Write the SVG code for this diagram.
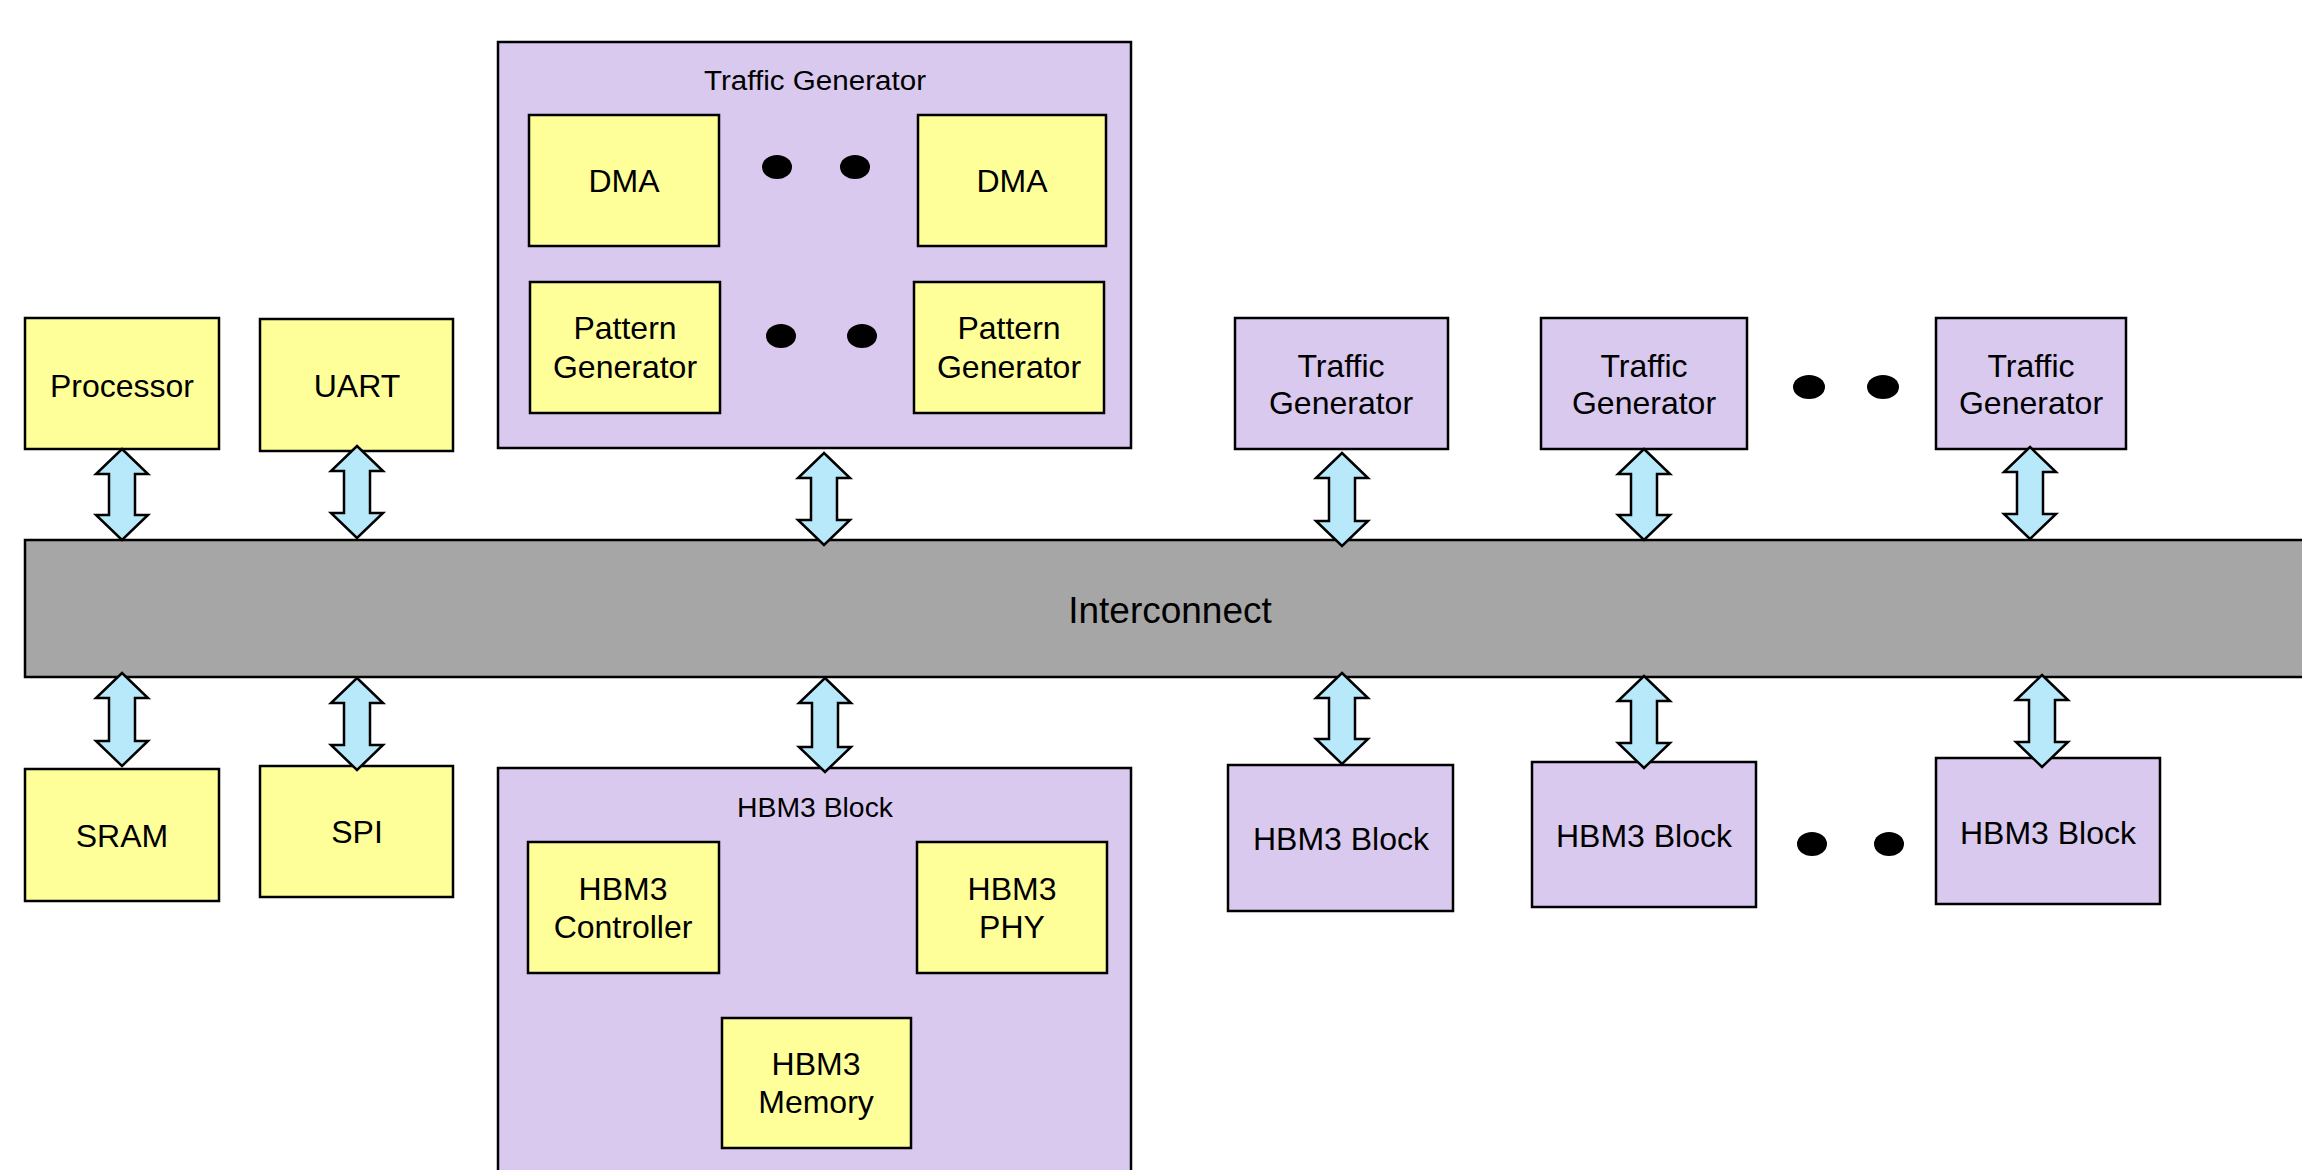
<svg xmlns="http://www.w3.org/2000/svg" width="2302" height="1170" viewBox="0 0 2302 1170">
<style>
.y{fill:#ffff99;stroke:#000;stroke-width:2.5}
.p{fill:#d9c9ee;stroke:#000;stroke-width:2.5}
.g{fill:#a6a6a6;stroke:#000;stroke-width:2.5}
.a{fill:#b7e9fb;stroke:#000;stroke-width:2.5;stroke-linejoin:miter}
.t{font-family:"Liberation Sans",Arial,sans-serif;font-size:32px;fill:#000;text-anchor:middle}
.ti{font-family:"Liberation Sans",Arial,sans-serif;font-size:27px;fill:#000;text-anchor:middle}
.d{fill:#000}
</style>
<rect width="2302" height="1170" fill="#fff"/>
<g id="interconnect"><rect class="g" x="25" y="540" width="2300" height="137"/><text class="t" x="1170" y="623" style="font-size:37px">Interconnect</text></g>
<g id="processor"><rect class="y" x="25" y="318" width="194" height="131"/><text class="t" x="122" y="397">Processor</text></g>
<g id="uart"><rect class="y" x="260" y="319" width="193" height="132"/><text class="t" x="357" y="397">UART</text></g>
<g id="sram"><rect class="y" x="25" y="769" width="194" height="132"/><text class="t" x="122" y="847">SRAM</text></g>
<g id="spi"><rect class="y" x="260" y="766" width="193" height="131"/><text class="t" x="357" y="843">SPI</text></g>
<g id="tg-main"><rect class="p" x="498" y="42" width="633" height="406"/><text class="ti" x="815" y="90" textLength="222" lengthAdjust="spacingAndGlyphs">Traffic Generator</text>
<g id="dma1"><rect class="y" x="529" y="115" width="190" height="131"/><text class="t" x="624" y="192">DMA</text></g>
<g id="dma2"><rect class="y" x="918" y="115" width="188" height="131"/><text class="t" x="1012" y="192">DMA</text></g>
<g id="pg1"><rect class="y" x="530" y="282" width="190" height="131"/><text class="t" x="625" y="339">Pattern</text><text class="t" x="625" y="378">Generator</text></g>
<g id="pg2"><rect class="y" x="914" y="282" width="190" height="131"/><text class="t" x="1009" y="339">Pattern</text><text class="t" x="1009" y="378">Generator</text></g>
<ellipse class="d" cx="777" cy="167" rx="15" ry="12"/><ellipse class="d" cx="855" cy="167" rx="15" ry="12"/>
<ellipse class="d" cx="781" cy="336" rx="15" ry="12"/><ellipse class="d" cx="862" cy="336" rx="15" ry="12"/>
</g>
<g id="hbm-main"><rect class="p" x="498" y="768" width="633" height="440"/><text class="ti" x="815" y="817" textLength="156" lengthAdjust="spacingAndGlyphs">HBM3 Block</text>
<g id="hbm-ctrl"><rect class="y" x="528" y="842" width="191" height="131"/><text class="t" x="623" y="900">HBM3</text><text class="t" x="623" y="938">Controller</text></g>
<g id="hbm-phy"><rect class="y" x="917" y="842" width="190" height="131"/><text class="t" x="1012" y="900">HBM3</text><text class="t" x="1012" y="938">PHY</text></g>
<g id="hbm-mem"><rect class="y" x="722" y="1018" width="189" height="130"/><text class="t" x="816" y="1075">HBM3</text><text class="t" x="816" y="1113">Memory</text></g>
</g>
<g id="tg1"><rect class="p" x="1235" y="318" width="213" height="131"/><text class="t" x="1341" y="377">Traffic</text><text class="t" x="1341" y="414">Generator</text></g>
<g id="tg2"><rect class="p" x="1541" y="318" width="206" height="131"/><text class="t" x="1644" y="377">Traffic</text><text class="t" x="1644" y="414">Generator</text></g>
<g id="tg3"><rect class="p" x="1936" y="318" width="190" height="131"/><text class="t" x="2031" y="377">Traffic</text><text class="t" x="2031" y="414">Generator</text></g>
<g id="tg-dots"><ellipse class="d" cx="1809" cy="387" rx="16" ry="12"/><ellipse class="d" cx="1883" cy="387" rx="16" ry="12"/></g>
<g id="hbm1"><rect class="p" x="1228" y="765" width="225" height="146"/><text class="t" x="1341" y="850">HBM3 Block</text></g>
<g id="hbm2"><rect class="p" x="1532" y="762" width="224" height="145"/><text class="t" x="1644" y="847">HBM3 Block</text></g>
<g id="hbm3"><rect class="p" x="1936" y="758" width="224" height="146"/><text class="t" x="2048" y="844">HBM3 Block</text></g>
<g id="hbm-dots"><ellipse class="d" cx="1812" cy="844" rx="15" ry="12"/><ellipse class="d" cx="1889" cy="844" rx="15" ry="12"/></g>
<g id="connectors">
<path class="a" d="M122,449 L148,474 L135,474 L135,515 L148,515 L122,540 L96,515 L109,515 L109,474 L96,474 Z"/>
<path class="a" d="M357,446 L383,471 L370,471 L370,513 L383,513 L357,538 L331,513 L344,513 L344,471 L331,471 Z"/>
<path class="a" d="M824,453 L850,478 L837,478 L837,520 L850,520 L824,545 L798,520 L811,520 L811,478 L798,478 Z"/>
<path class="a" d="M1342,453 L1368,478 L1355,478 L1355,521 L1368,521 L1342,546 L1316,521 L1329,521 L1329,478 L1316,478 Z"/>
<path class="a" d="M1644,449 L1670,474 L1657,474 L1657,515 L1670,515 L1644,540 L1618,515 L1631,515 L1631,474 L1618,474 Z"/>
<path class="a" d="M2030,447 L2056,472 L2043,472 L2043,514 L2056,514 L2030,539 L2004,514 L2017,514 L2017,472 L2004,472 Z"/>
<path class="a" d="M122,673 L148,698 L135,698 L135,741 L148,741 L122,766 L96,741 L109,741 L109,698 L96,698 Z"/>
<path class="a" d="M357,678 L383,703 L370,703 L370,745 L383,745 L357,770 L331,745 L344,745 L344,703 L331,703 Z"/>
<path class="a" d="M825,678 L851,703 L838,703 L838,747 L851,747 L825,772 L799,747 L812,747 L812,703 L799,703 Z"/>
<path class="a" d="M1342,673 L1368,698 L1355,698 L1355,739 L1368,739 L1342,764 L1316,739 L1329,739 L1329,698 L1316,698 Z"/>
<path class="a" d="M1644,676 L1670,701 L1657,701 L1657,743 L1670,743 L1644,768 L1618,743 L1631,743 L1631,701 L1618,701 Z"/>
<path class="a" d="M2042,675 L2068,700 L2055,700 L2055,742 L2068,742 L2042,767 L2016,742 L2029,742 L2029,700 L2016,700 Z"/>
</g>
</svg>
